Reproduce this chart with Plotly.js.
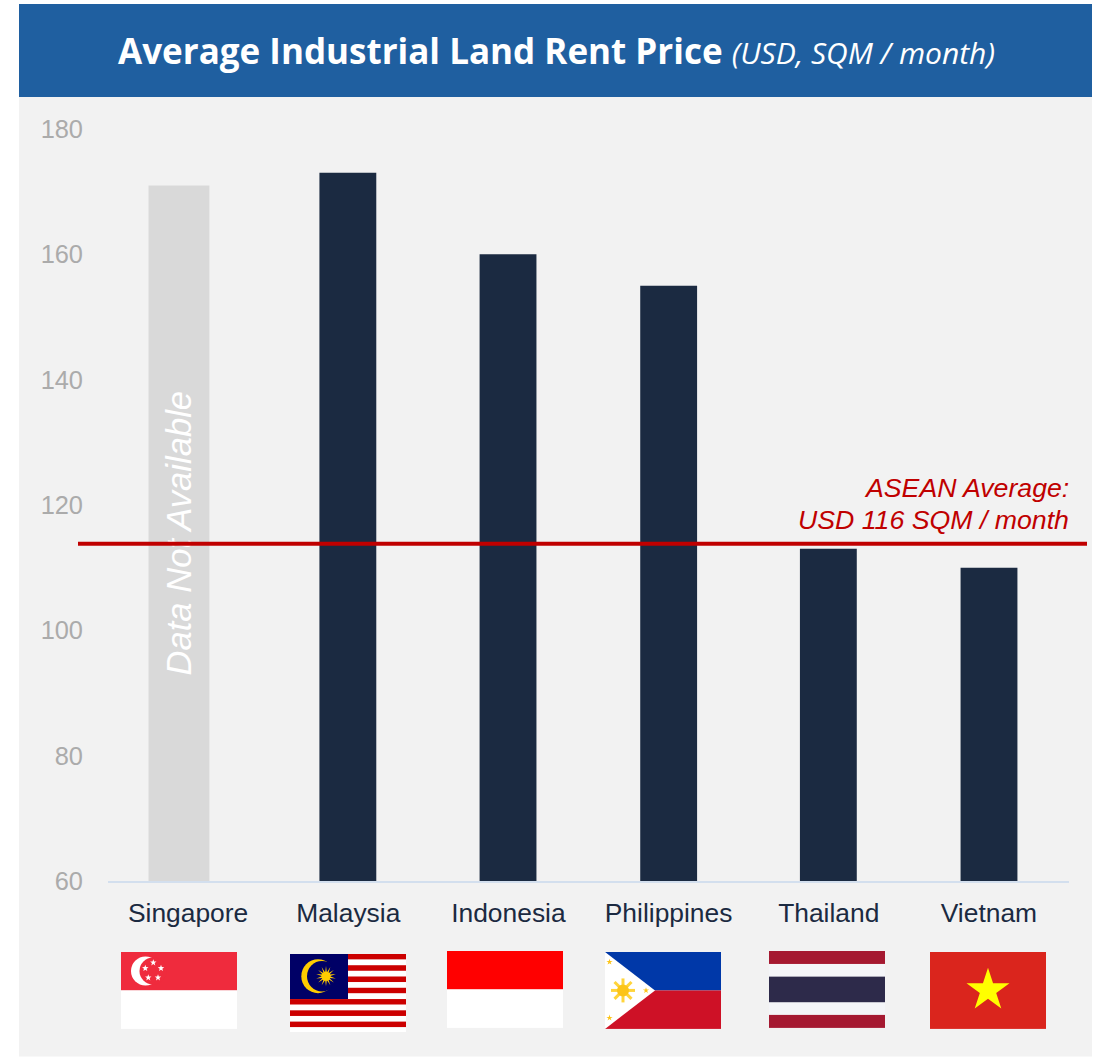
<!DOCTYPE html>
<html>
<head>
<meta charset="utf-8">
<script src="https://cdn.plot.ly/plotly-3.0.1.min.js"></script>
<style>html,body{margin:0;padding:0;background:#fff}#c{width:1097px;height:1057px}</style>
</head>
<body>
<div id="c"></div>
<script>
const categories = ['Singapore','Malaysia','Indonesia','Philippines','Thailand','Vietnam'];
const values = [171,173,160,155,113,110];
const noteCategory = ['Singapore'];
const noteValue = [171];
const noteText = ['Data Not Available'];
const yTicks = [60,80,100,120,140,160,180];
const averageLine = 113.8;
const averageLabels = ['ASEAN Average:','USD 116 SQM / month'];
const titleMain = 'Average Industrial Land Rent Price';
const titleSub = '(USD, SQM / month)';

const W=1097,H=1057,L=108,R=28,T=129,B=175.5;
const pw=W-L-R, ph=H-T-B;
const px=x=>(x-L)/pw, py=y=>1-(y-T)/ph;
const yFloor=60;

function star(cx,cy,r,ri,n,fill){
  let p=[];const k=n||5;
  for(let i=0;i<2*k;i++){const a=-Math.PI/2+i*Math.PI/k,q=i%2?ri:r;p.push((cx+q*Math.cos(a)).toFixed(2)+','+(cy+q*Math.sin(a)).toFixed(2));}
  return `<polygon points="${p.join(' ')}" fill="${fill}"/>`;
}
function rect(x,y,w,h,f){return `<rect x="${x}" y="${y}" width="${w}" height="${h}" fill="${f}"/>`;}
function svg(body){return 'data:image/svg+xml;utf8,'+encodeURIComponent(`<svg xmlns="http://www.w3.org/2000/svg" width="116" height="77" viewBox="0 0 116 77" preserveAspectRatio="none">${body}</svg>`);}

const sg = svg(rect(0,0,116,38.5,'#ef2b3d')+rect(0,38.5,116,38.5,'#fff')
  +`<circle cx="24.5" cy="19" r="14.5" fill="#fff"/><circle cx="32" cy="19" r="13.5" fill="#ef2b3d"/>`
  +star(32.3,10.7,3.4,1.4,5,'#fff')+star(24.3,16.3,3.4,1.4,5,'#fff')+star(40,16.3,3.4,1.4,5,'#fff')+star(27.3,25.7,3.4,1.4,5,'#fff')+star(37,25.7,3.4,1.4,5,'#fff'));
let myStripes='';
for(let i=0;i<14;i++){myStripes+=rect(0,i*5.57,116,5.57,i%2?'#fff':'#cc0000');}
const my = svg(myStripes+rect(0,0,58,44.5,'#000066')
  +`<circle cx="28" cy="22" r="16.7" fill="#ffcc00"/><circle cx="32" cy="22" r="15" fill="#000066"/>`
  +star(36,22,10,3.8,14,'#ffcc00')+`<circle cx="36" cy="22" r="4.5" fill="#ffcc00"/>`);
const id = svg(rect(0,0,117,38.5,'#ff0000')+rect(0,38.5,117,38.5,'#fff'));
let sunRays='';
for(let i=0;i<8;i++){const a=i*Math.PI/4;sunRays+=`<line x1="18" y1="38.5" x2="${(18+12*Math.cos(a)).toFixed(2)}" y2="${(38.5+12*Math.sin(a)).toFixed(2)}" stroke="#ffd43a" stroke-width="3"/>`;}
const ph_ = svg(rect(0,0,116,38.5,'#0038a8')+rect(0,38.5,116,38.5,'#ce1126')
  +`<polygon points="0,0 50,38.5 0,77" fill="#fff"/>`
  +sunRays+`<circle cx="18" cy="38.5" r="6" fill="#fcc419"/>`
  +star(4.5,10,3.3,1.2,5,'#fcc419')+star(4.5,66,3.3,1.2,5,'#fcc419')+star(41,38.5,3.3,1.2,5,'#fcc419'));
const th = svg(rect(0,0,116,77,'#f4f5f8')+rect(0,0,116,13,'#a51931')+rect(0,64,116,13,'#a51931')+rect(0,25.7,116,25.6,'#2d2a4a'));
const vn = svg(rect(0,0,116,77,'#da251d')+star(58,38.3,22.6,8.6,5,'#ffff00'));

const flagBoxes=[[121,952.5,sg],[290,954.5,my],[447,951.5,id],[605,952.5,ph_],[769,951.5,th],[930,952.5,vn]];
const images=flagBoxes.map(b=>({source:b[2],xref:'paper',yref:'paper',x:px(b[0]),y:py(b[1]),sizex:116/pw,sizey:(b[2]===my?78:77)/ph,xanchor:'left',yanchor:'top',sizing:'stretch',layer:'above'}));

const barColors=['#d9d9d9','#1b2a41','#1b2a41','#1b2a41','#1b2a41','#1b2a41'];
const barWidths=[0.38,0.355,0.355,0.355,0.355,0.355];
const barOffsets=[-0.247,-0.18,-0.18,-0.177,-0.18,-0.177];

const trace={type:'bar',x:categories,y:values,
  marker:{color:barColors,line:{width:0}},width:barWidths,offset:barOffsets,
  cliponaxis:true,hoverinfo:'skip',showlegend:false};
const noteTrace={type:'bar',x:noteCategory,y:noteValue.map(v=>v-yFloor),base:yFloor,
  marker:{color:'rgba(0,0,0,0)',line:{width:0}},width:barWidths[0],offset:barOffsets[0],
  text:noteText,textposition:'inside',insidetextanchor:'middle',textangle:-90,constraintext:'none',
  textfont:{family:'Liberation Sans',size:34.6,color:'#ffffff',style:'italic'},
  hoverinfo:'skip',showlegend:false};

const layout={
  width:W,height:H,margin:{l:L,r:R,t:T,b:B,pad:0,autoexpand:false},
  paper_bgcolor:'#ffffff',plot_bgcolor:'rgba(0,0,0,0)',showlegend:false,barmode:'overlay',
  font:{family:'Liberation Sans'},
  title:{text:`<b>${titleMain}</b> <span style="font-size:30px"><i>${titleSub}</i></span>`,
    font:{family:'Open Sans',size:35,color:'#ffffff'},xref:'paper',yref:'container',x:px(118),xanchor:'left',y:1-52/H,yanchor:'middle',automargin:false},
  xaxis:{type:'category',categoryorder:'array',categoryarray:categories,showgrid:false,zeroline:false,
    showline:true,linecolor:'#d3dfee',linewidth:1.5,ticks:'',ticklabelstandoff:8,
    tickfont:{family:'Liberation Sans',size:26.4,color:'#1b2a41'},fixedrange:true},
  yaxis:{range:[yFloor,180],tickvals:yTicks,ticktext:yTicks.map(String),showgrid:false,zeroline:false,showline:false,ticks:'',ticklabelstandoff:24,
    tickfont:{family:'Liberation Sans',size:25.4,color:'#ababab'},fixedrange:true},
  shapes:[
    {type:'rect',xref:'paper',yref:'paper',x0:px(19),x1:px(1092),y0:py(97),y1:py(1057),fillcolor:'#f2f2f2',line:{width:0},layer:'below'},
    {type:'rect',xref:'paper',yref:'paper',x0:px(19),x1:px(1092),y0:py(4),y1:py(97),fillcolor:'#1f5fa0',line:{width:0},layer:'below'},
    {type:'line',xref:'paper',yref:'y',x0:px(78),x1:px(1087),y0:averageLine,y1:averageLine,line:{color:'#c00000',width:4},layer:'above'}
  ],
  annotations:averageLabels.map((t,i)=>({text:t,xref:'paper',yref:'paper',x:px(1071),y:py(488+i*32),xanchor:'right',yanchor:'middle',showarrow:false,
    font:{family:'Liberation Sans',size:26.7,color:'#c00000',style:'italic'}})),
  images:images
};
Plotly.newPlot('c',[trace,noteTrace],layout,{displayModeBar:false,staticPlot:true});
</script>
</body>
</html>
